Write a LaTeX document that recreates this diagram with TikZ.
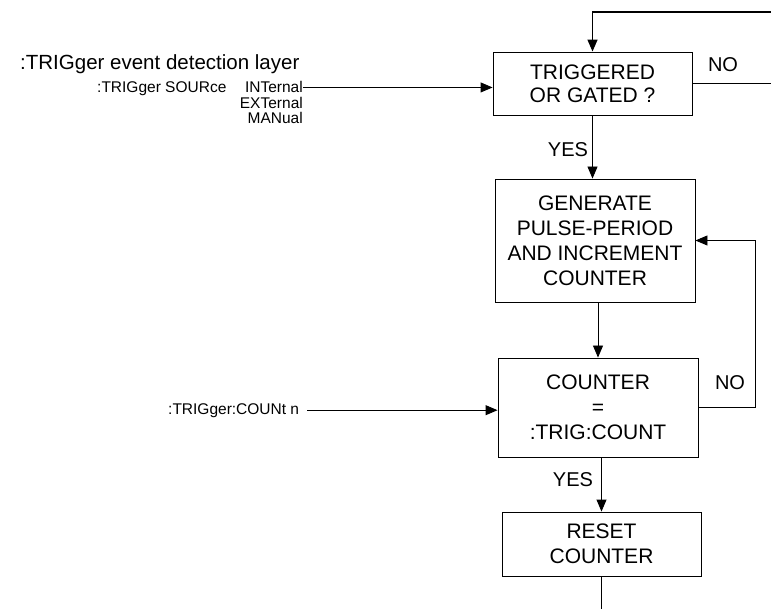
\documentclass[tikz,border=0pt]{standalone}
\usepackage{fontspec}
\setmainfont{Liberation Sans}
\usetikzlibrary{arrows.meta,calc}
\begin{document}
\begin{tikzpicture}[x=1pt,y=-1pt,
  box/.style={draw,line width=0.9pt,rectangle,inner sep=0pt,align=center,font=\fontsize{21}{25}\selectfont},
  arr/.style={line width=0.9pt,-{Triangle[length=12pt,width=10pt]}},
  ln/.style={line width=0.9pt},
  lab/.style={font=\fontsize{20}{24}\selectfont,inner sep=0pt},
  small/.style={font=\fontsize{15.5}{16}\selectfont,inner sep=0pt}]
\useasboundingbox (0,0) rectangle (771,609);
% boxes
\node[box,minimum width=199pt,minimum height=63pt,font=\fontsize{21}{23}\selectfont] (b1) at (592.5,83.5) {TRIGGERED\\OR GATED ?};
\node[box,minimum width=200pt,minimum height=123pt] (b2) at (595,240.5) {GENERATE\\PULSE-PERIOD\\AND INCREMENT\\COUNTER};
\node[box,minimum width=200pt,minimum height=99pt] (b3) at (598,407.5) {COUNTER\\=\\:TRIG:COUNT};
\node[box,minimum width=199pt,minimum height=64pt] (b4) at (601.5,544) {RESET\\COUNTER};
% left texts
\node[anchor=base west,inner sep=0pt,font=\fontsize{20.5}{24}\selectfont] (title) at (20,70) {:TRIGger event detection layer};
\node[small,anchor=base west] (srclab) at (97,93) {:TRIGger SOURce};
\node[small,anchor=base east] (int) at (303,93) {INTernal};
\node[small,anchor=base east] (ext) at (303,109) {EXTernal};
\node[small,anchor=base east] (man) at (303,124) {MANual};
\node[small,anchor=base west] (cnt) at (168,414) {:TRIGger:COUNt n};
% labels
\node[lab] (no1) at (723,65) {NO};
\node[lab] (yes1) at (568,150) {YES};
\node[lab] (yes2) at (573,480) {YES};
\node[lab] (no2) at (730,383) {NO};
% coordinates
\coordinate (tr) at (771,12);
\coordinate (nr) at (771,83.5);
\coordinate (lr) at (755,0);
\coordinate (bot) at (601.5,609);
% connectors
\draw[arr,line width=1.4pt] (tr) -| (b1.north);
\draw[ln] (b1.east) -- (nr);
\draw[arr] (int.east) -- (int.east -| b1.west);
\draw[arr] (b1.south) -- (b1.south |- b2.north);
\draw[arr] (b2.south -| b3.north) -- (b3.north);
\draw[arr] (b3.south -| b4.north) -- (b4.north);
\draw[ln] (b4.south) -- (bot);
\draw[arr] (b3.east) -- (b3.east -| lr) -- (b2.east -| lr) -- (b2.east);
\draw[arr] ([xshift=8pt]cnt.east) -- (cnt.east -| b3.west);
\end{tikzpicture}
\end{document}
